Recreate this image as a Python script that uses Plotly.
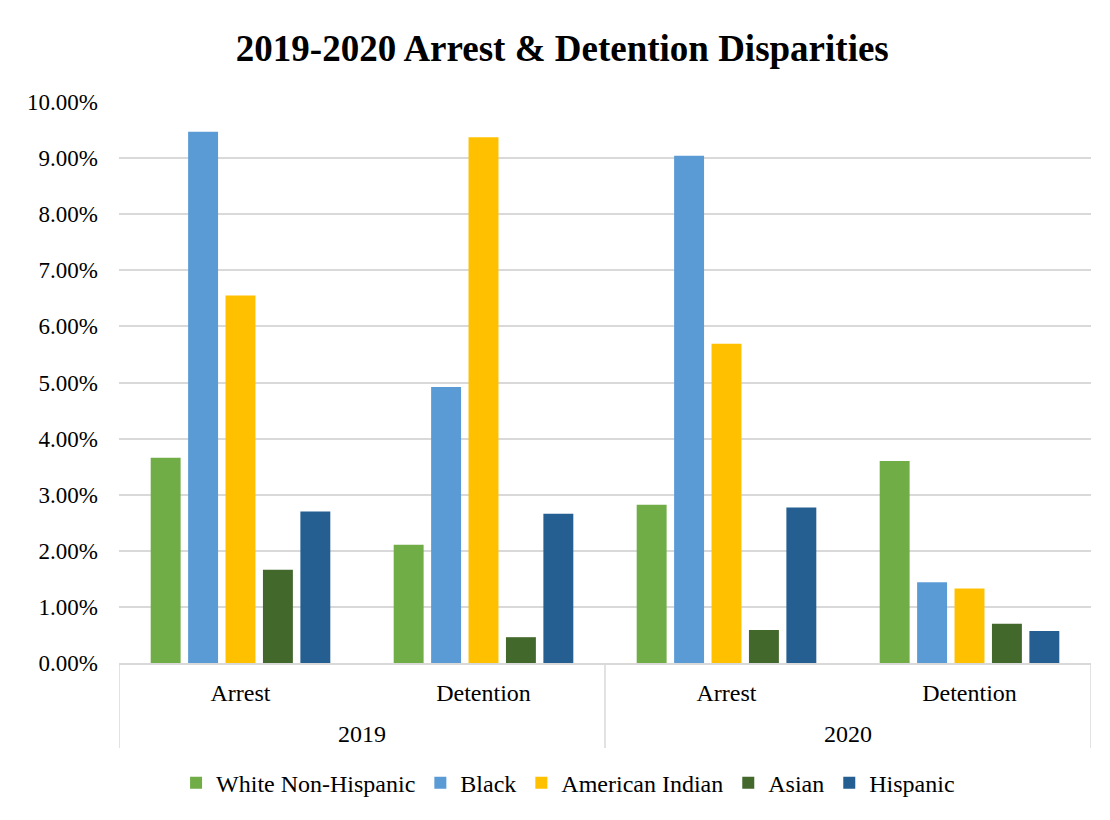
import plotly.graph_objects as go

years = ["2019", "2019", "2020", "2020"]
stages = ["Arrest", "Detention", "Arrest", "Detention"]

series_names = ["White Non-Hispanic", "Black", "American Indian", "Asian", "Hispanic"]
white = [0.0366, 0.0211, 0.0282, 0.0360]
black = [0.0947, 0.0492, 0.0904, 0.0144]
american_indian = [0.0655, 0.0937, 0.0569, 0.0133]
asian = [0.0166, 0.0046, 0.0059, 0.0070]
hispanic = [0.0270, 0.0266, 0.0277, 0.0057]
series_values = [white, black, american_indian, asian, hispanic]
colors = ["#70AD47", "#5B9BD5", "#FFC000", "#43682B", "#255E91"]

y_ticks = [i / 100 for i in range(0, 11)]

FONT = "Liberation Serif, Times New Roman, serif"
GRID = "#D9D9D9"

# category keys built from the two label levels
keys = [f"{y} {s}" for y, s in zip(years, stages)]

fig = go.Figure()
for name, vals, col in zip(series_names, series_values, colors):
    fig.add_trace(go.Bar(
        x=keys, y=vals, name=name,
        marker=dict(color=col, line=dict(width=0)),
    ))

# group (year) labels and dividers, derived from the category order
groups = []
for i, y in enumerate(years):
    if not groups or groups[-1][0] != y:
        groups.append([y, i, i])
    else:
        groups[-1][2] = i

div_bottom = (663 - 748) / 561
year_y = (663 - 734) / 561

annotations = []
shapes = []
bounds = set()
for y, i0, i1 in groups:
    annotations.append(dict(text=y, x=(i0 + i1) / 2, xref="x", y=year_y, yref="paper",
                            showarrow=False, xanchor="center", yanchor="middle",
                            font=dict(family=FONT, size=24, color="#000000")))
    bounds.add(i0 - 0.5)
    bounds.add(i1 + 0.5)
for b in sorted(bounds):
    shapes.append(dict(type="line", xref="x", yref="paper", x0=b, x1=b, y0=0, y1=div_bottom,
                       line=dict(color=GRID, width=1.5)))

shapes.append(dict(type="rect", xref="paper", yref="paper",
                   x0=(6 - 119) / 972, x1=(1104 - 119) / 972,
                   y0=(663 - 840) / 561, y1=(663 - 6) / 561,
                   line=dict(color=GRID, width=1.5), fillcolor="rgba(0,0,0,0)",
                   layer="below"))

W, H = 1102, 812
fig.update_layout(
    width=W, height=H,
    margin=dict(l=111, r=19, t=94, b=157),
    paper_bgcolor="white", plot_bgcolor="white",
    barmode="group", bargap=0.23, bargroupgap=0.2,
    font=dict(family=FONT, size=24, color="#000000"),
    title=dict(text="<b>2019-2020 Arrest &amp; Detention Disparities</b>",
               x=0.503, xanchor="center", y=0.951, yanchor="middle",
               font=dict(family=FONT, size=37, color="#000000")),
    showlegend=True,
    legend=dict(orientation="h", x=0.462, xanchor="center", y=-0.214, yanchor="middle",
                font=dict(family=FONT, size=24, color="#000000"),
                itemsizing="constant", traceorder="normal"),
    xaxis=dict(type="category", categoryorder="array", categoryarray=keys,
               tickvals=keys, ticktext=stages,
               range=[-0.5, len(keys) - 0.5],
               showgrid=False, showline=True, linecolor=GRID, linewidth=1.5,
               ticks="outside", ticklen=7, tickcolor="rgba(0,0,0,0)",
               tickfont=dict(family=FONT, size=24, color="#000000")),
    yaxis=dict(range=[0, 0.10], tickvals=y_ticks, tickformat=".2%",
               showgrid=True, gridcolor=GRID, gridwidth=1.5,
               zeroline=False, showline=False, ticks="",
               ticklabelstandoff=20,
               tickfont=dict(family=FONT, size=23, color="#000000")),
    annotations=annotations,
    shapes=shapes,
)

fig.write_html("out.html")
